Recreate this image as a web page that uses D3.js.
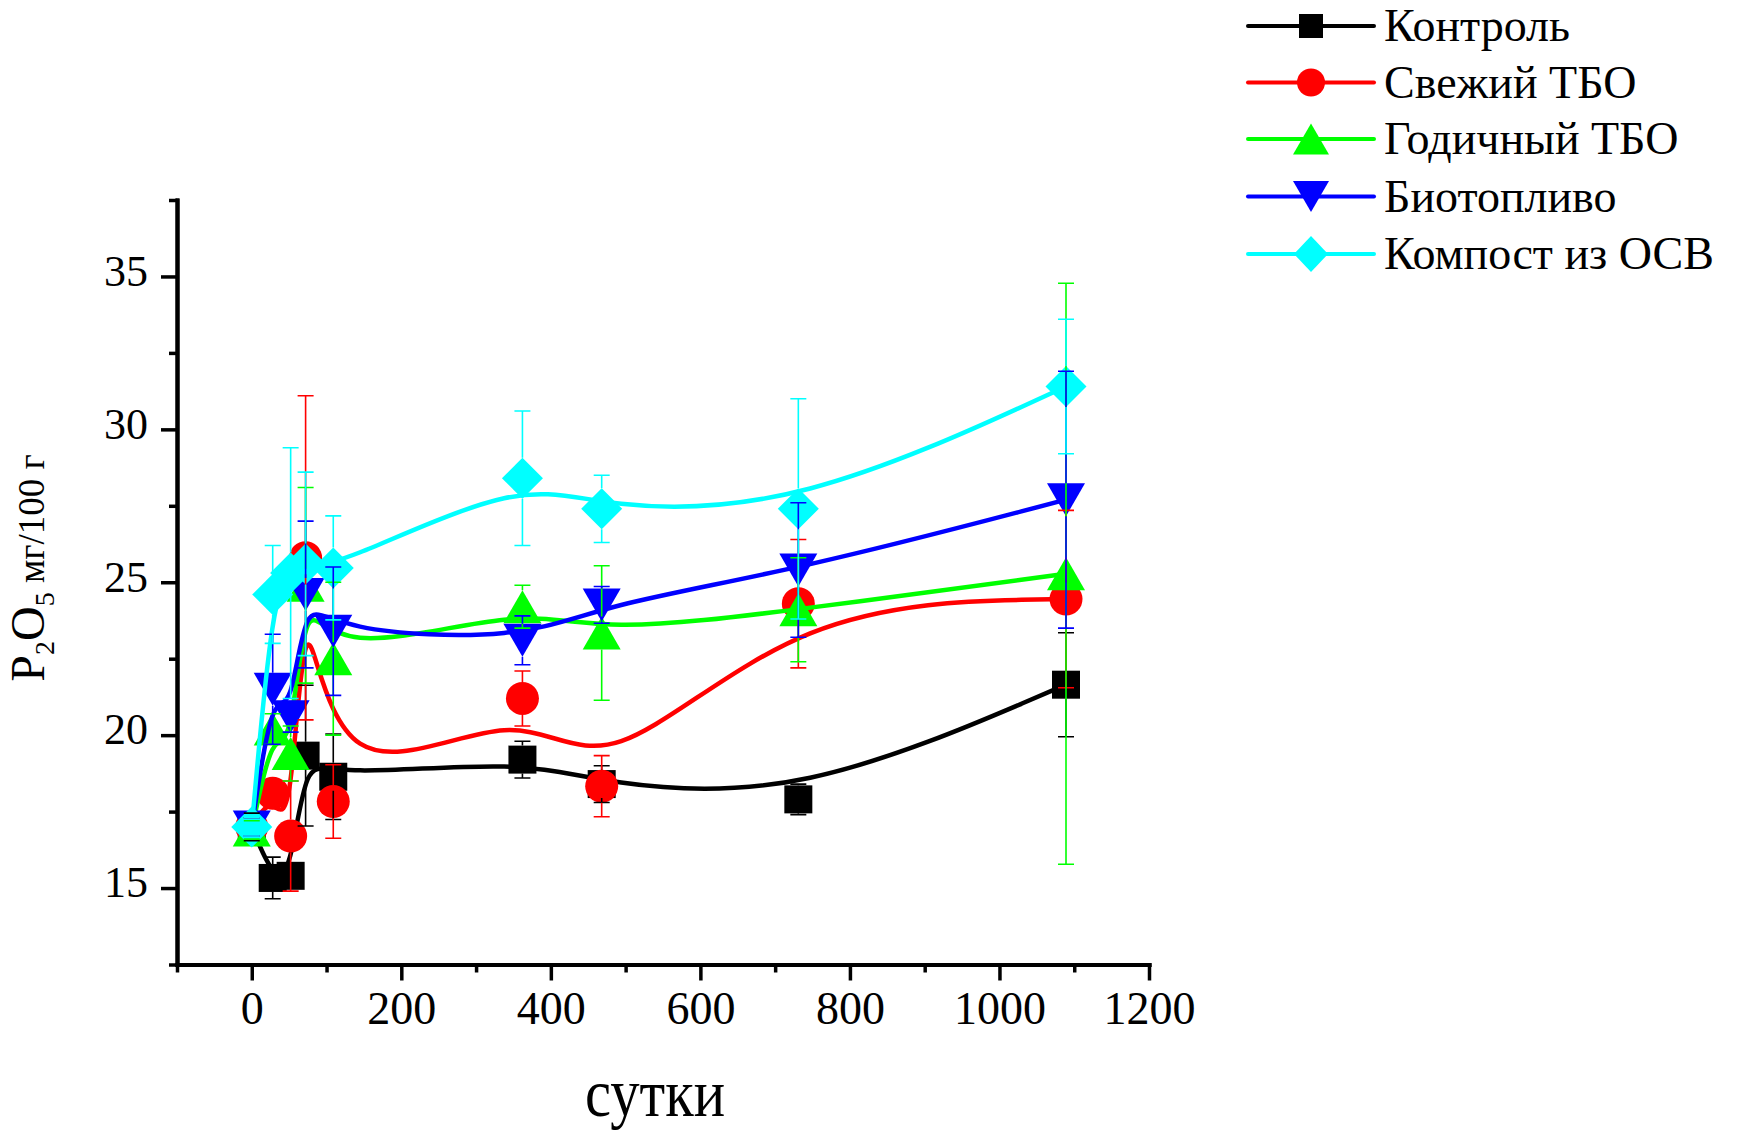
<!DOCTYPE html>
<html>
<head>
<meta charset="utf-8">
<script src="https://d3js.org/d3.v7.min.js"></script>
<style>
	body { margin: 0; background: #fff; }
	text { font-family: "Liberation Serif", "Times New Roman", serif; fill: #000; }
</style>
</head>
<body>
<svg id="chart" width="1737" height="1134"></svg>
<script>
	// Sampling days
	var days = [0, 28, 52, 72, 109, 362, 468, 731, 1089];

	// P2O5, mg/100 g, and error bars for each treatment
	var control = [17.0, 15.33, 15.4, 19.33, 18.64, 19.2, 18.4, 17.9, 21.65];
	var controlErr = [0.45, 0.68, 0.3, 2.3, 1.4, 0.6, 0.6, 0.5, 1.7];

	var freshMsw = [17.0, 18.1, 16.7, 25.8, 17.83, 21.2, 18.33, 24.3, 24.45];
	var freshMswErr = [0.3, 0.3, 1.8, 5.3, 1.2, 0.9, 1.0, 2.1, 2.9];

	var yearMsw = [16.9, 20.2, 19.4, 24.9, 22.5, 24.2, 23.34, 24.1, 25.28];
	var yearMswErr = [0.3, 0.5, 0.9, 3.2, 2.5, 0.7, 2.2, 1.7, 9.5];

	var biofuel = [17.0, 21.5, 20.6, 24.6, 23.4, 23.1, 24.26, 25.4, 27.7];
	var biofuelErr = [0.3, 1.8, 0.5, 2.4, 2.1, 0.8, 0.6, 2.2, 4.2];

	var compost = [17.0, 24.6, 25.3, 25.6, 25.47, 28.4, 27.4, 27.4, 31.4];
	var compostErr = [0.3, 1.6, 4.1, 3.0, 1.7, 2.2, 1.1, 3.6, 2.2];

	var seriesNames = ["Контроль", "Свежий ТБО", "Годичный ТБО", "Биотопливо", "Компост из ОСВ"];
	var seriesValues = [control, freshMsw, yearMsw, biofuel, compost];
	var seriesErrors = [controlErr, freshMswErr, yearMswErr, biofuelErr, compostErr];
	var seriesColors = ["#000000", "#ff0000", "#00ff00", "#0000ff", "#00ffff"];
	var seriesShapes = ["square", "circle", "triangleUp", "triangleDown", "diamond"];

	// Axis ticks
	var xTicks = [0, 200, 400, 600, 800, 1000, 1200];
	var xMinorTicks = [-100, 100, 300, 500, 700, 900, 1100];
	var yTicks = [15, 20, 25, 30, 35];
	var yMinorTicks = [12.5, 17.5, 22.5, 27.5, 32.5, 37.5];

	var svg = d3.select("#chart");

	var x = d3.scaleLinear().domain([-100, 1200]).range([177, 1149]);
	var y = d3.scaleLinear().domain([12.5, 37.5]).range([964.5, 200]);

	// marker sizes [width, height] in the plot and in the legend
	var plotSize = {square: [28, 28], circle: [33, 33], triangleUp: [38, 33], triangleDown: [38, 33], diamond: [41, 41]};
	var legendSize = {square: [24, 24], circle: [28, 28], triangleUp: [36, 31], triangleDown: [36, 31], diamond: [34, 36]};

	function shapePath(shape, w, h) {
		var p = d3.path();
		if (shape == "square") {
			p.rect(-w / 2, -h / 2, w, h);
		} else if (shape == "circle") {
			p.arc(0, 0, w / 2, 0, 2 * Math.PI);
		} else if (shape == "triangleUp") {
			p.moveTo(0, -h / 2); p.lineTo(w / 2, h / 2); p.lineTo(-w / 2, h / 2); p.closePath();
		} else if (shape == "triangleDown") {
			p.moveTo(0, h / 2); p.lineTo(w / 2, -h / 2); p.lineTo(-w / 2, -h / 2); p.closePath();
		} else {
			p.moveTo(0, -h / 2); p.lineTo(w / 2, 0); p.lineTo(0, h / 2); p.lineTo(-w / 2, 0); p.closePath();
		}
		return p.toString();
	}

	// Axes
	var xMinor = svg.append("g").attr("transform", "translate(0,964.5)")
		.call(d3.axisBottom(x).tickValues(xMinorTicks).tickSize(8).tickSizeOuter(0).tickFormat(""));
	var yMinor = svg.append("g").attr("transform", "translate(177,0)")
		.call(d3.axisLeft(y).tickValues(yMinorTicks).tickSize(8).tickSizeOuter(0).tickFormat(""));
	var xAxis = svg.append("g").attr("transform", "translate(0,964.5)")
		.call(d3.axisBottom(x).tickValues(xTicks).tickSize(16).tickSizeOuter(0).tickPadding(11).tickFormat(d3.format("d")));
	var yAxis = svg.append("g").attr("transform", "translate(177,0)")
		.call(d3.axisLeft(y).tickValues(yTicks).tickSize(16).tickSizeOuter(0).tickPadding(13).tickFormat(d3.format("d")));

	[xMinor, yMinor, xAxis, yAxis].forEach(function(g) {
		g.selectAll("path.domain").attr("stroke-width", 4).attr("stroke-linecap", "square");
		g.selectAll(".tick line").attr("stroke-width", 3.5);
		g.attr("font-family", null).attr("font-size", null);
		g.selectAll("text").style("font-size", "44px");
	});
	xAxis.selectAll(".tick text").style("font-size", "46px");
	yAxis.selectAll(".tick text").attr("dy", "0.2em");

	// Series lines and markers
	var line = d3.line()
		.x(function(d) { return x(d[0]); })
		.y(function(d) { return y(d[1]); })
		.curve(d3.curveBasis);

	for (var s = 0; s < seriesValues.length; s++) {
		var pts = days.map(function(d, i) { return [d, seriesValues[s][i]]; });
		var sz = plotSize[seriesShapes[s]];
		svg.append("path")
			.attr("d", line(pts))
			.attr("fill", "none")
			.attr("stroke", seriesColors[s])
			.attr("stroke-width", 4.5);
		svg.append("g").selectAll("path")
			.data(pts)
			.join("path")
			.attr("transform", function(d) { return "translate(" + x(d[0]) + "," + y(d[1]) + ")"; })
			.attr("d", shapePath(seriesShapes[s], sz[0], sz[1]))
			.attr("fill", seriesColors[s]);
	}

	// Error bars on top, with a gap over the series' own symbol
	for (var s = 0; s < seriesValues.length; s++) {
		var half = plotSize[seriesShapes[s]][1] / 2;
		var bars = svg.append("g")
			.attr("stroke", seriesColors[s])
			.attr("stroke-width", 1.6)
			.attr("fill", "none");
		for (var i = 0; i < days.length; i++) {
			var cx = x(days[i]);
			var cy = y(seriesValues[s][i]);
			var yHi = y(seriesValues[s][i] + seriesErrors[s][i]);
			var yLo = y(seriesValues[s][i] - seriesErrors[s][i]);
			var bp = d3.path();
			if (cy - yHi > half) {
				bp.moveTo(cx, yHi); bp.lineTo(cx, cy - half);
				bp.moveTo(cx, cy + half); bp.lineTo(cx, yLo);
			}
			bp.moveTo(cx - 8, yHi); bp.lineTo(cx + 8, yHi);
			bp.moveTo(cx - 8, yLo); bp.lineTo(cx + 8, yLo);
			bars.append("path").attr("d", bp.toString());
		}
	}

	// Axis titles
	svg.append("text")
		.attr("x", 655)
		.attr("y", 1116)
		.attr("text-anchor", "middle")
		.attr("textLength", 140)
		.attr("lengthAdjust", "spacingAndGlyphs")
		.style("font-size", "68px")
		.text("сутки");

	var yTitle = svg.append("text")
		.attr("transform", "translate(44,568) rotate(-90)")
		.attr("text-anchor", "middle");
	yTitle.append("tspan").style("font-size", "48px").text("P");
	yTitle.append("tspan").style("font-size", "28px").attr("dy", 10).text("2");
	yTitle.append("tspan").style("font-size", "48px").attr("dy", -10).text("O");
	yTitle.append("tspan").style("font-size", "28px").attr("dy", 10).text("5");
	yTitle.append("tspan").style("font-size", "37px").attr("dy", -10).text(" мг/100 г");

	// Legend
	var legendRows = [26, 82.5, 139, 196.5, 254];
	var legend = svg.append("g");
	for (var s = 0; s < seriesNames.length; s++) {
		var ly = legendRows[s];
		var lsz = legendSize[seriesShapes[s]];
		legend.append("line")
			.attr("x1", 1248).attr("x2", 1374)
			.attr("y1", ly).attr("y2", ly)
			.attr("stroke", seriesColors[s])
			.attr("stroke-width", 4)
			.attr("stroke-linecap", "round");
		legend.append("path")
			.attr("transform", "translate(1311," + ly + ")")
			.attr("d", shapePath(seriesShapes[s], lsz[0], lsz[1]))
			.attr("fill", seriesColors[s]);
		legend.append("text")
			.attr("x", 1384)
			.attr("y", ly + 15)
			.style("font-size", "46px")
			.text(seriesNames[s]);
	}
</script>
</body>
</html>
